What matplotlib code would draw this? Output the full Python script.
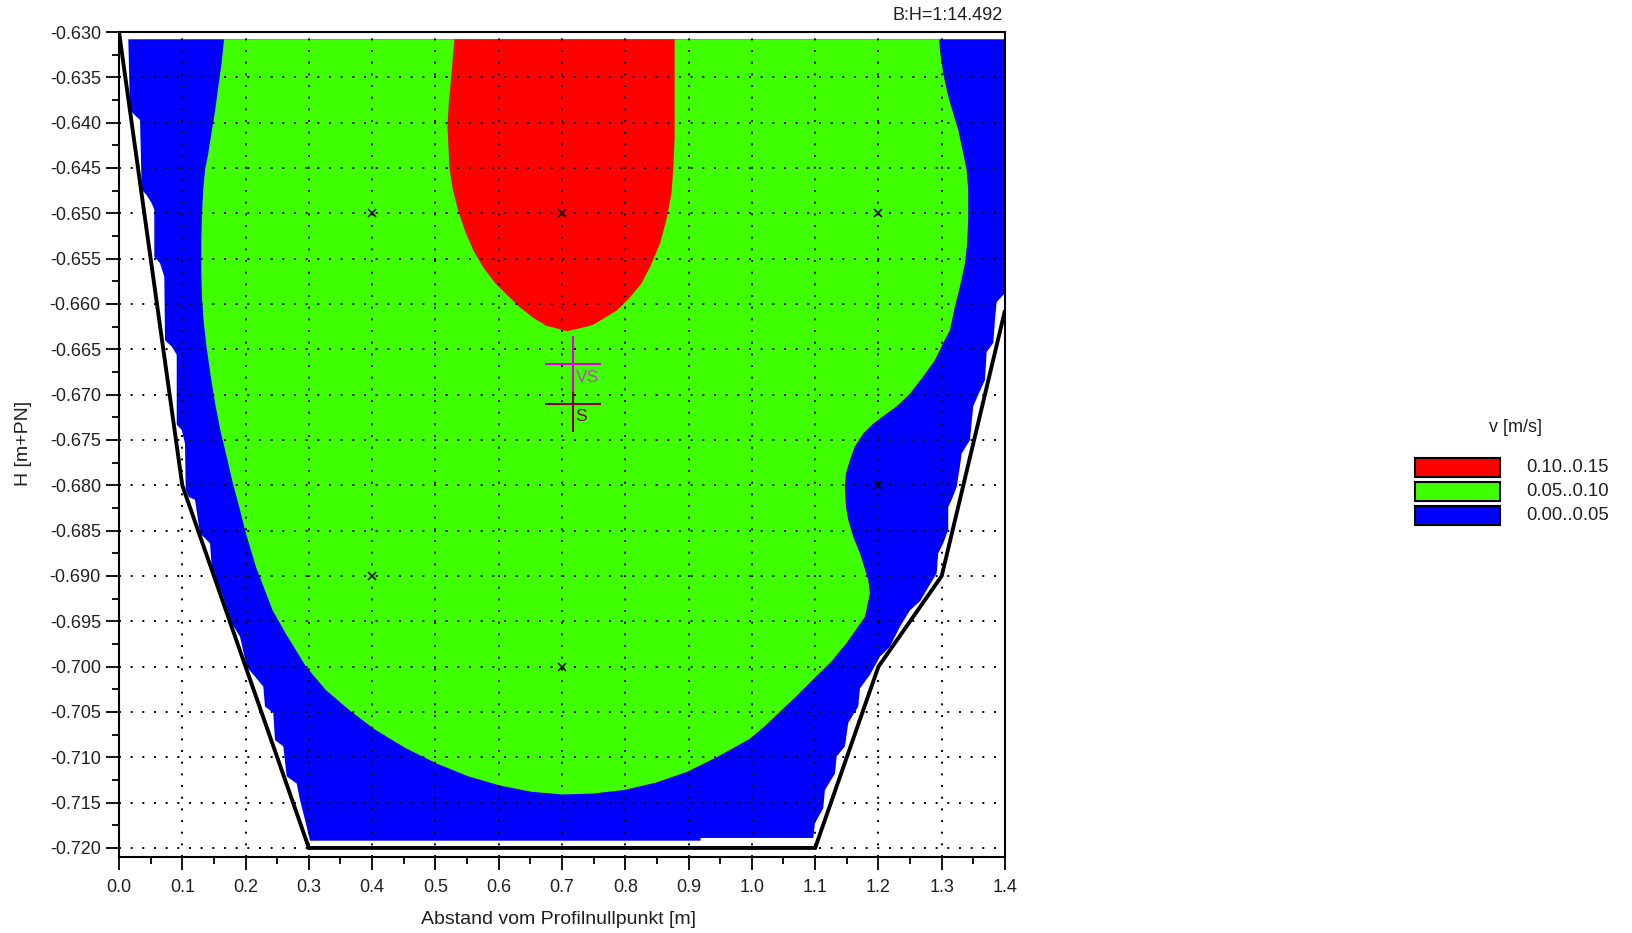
import matplotlib
matplotlib.use("Agg")
import matplotlib.pyplot as plt
from matplotlib.patches import Rectangle
from matplotlib.ticker import MultipleLocator, FormatStrFormatter

plt.rcParams['font.family'] = ['Liberation Sans', 'DejaVu Sans']
plt.rcParams['axes.unicode_minus'] = False

# ---- cross-section profile (bed line) ----
profile_x = [0.0, 0.1, 0.3, 1.1, 1.2, 1.3, 1.4]
profile_y = [-0.6300, -0.6800, -0.7200, -0.7200, -0.7000, -0.6900, -0.6607]
water_level = -0.6308

# ---- velocity classes ----
band_labels = ['0.10..0.15', '0.05..0.10', '0.00..0.05']
band_colors = ['#ff0000', '#40ff00', '#0000ff']

# 0.00..0.05 zone: left edge (top to bottom) and right edge (top to bottom)
blue_left_x = [0.0147, 0.0174, 0.0253, 0.0332, 0.0359, 0.0438, 0.0517, 0.0558,
               0.0558, 0.0648, 0.0716, 0.0727, 0.0833, 0.0912, 0.0912, 0.0991,
               0.1043, 0.1054, 0.1106, 0.1201, 0.1280, 0.1438, 0.1465, 0.1648,
               0.1781, 0.1912, 0.2018, 0.2280, 0.2307, 0.2438, 0.2465, 0.2596,
               0.2650, 0.2808, 0.2860, 0.2939, 0.3018]
blue_left_y = [-0.6308, -0.6386, -0.6392, -0.6397, -0.6474, -0.6480, -0.6489, -0.6496,
               -0.6548, -0.6555, -0.6570, -0.6640, -0.6647, -0.6656, -0.6733, -0.6739,
               -0.6754, -0.6805, -0.6813, -0.6816, -0.6853, -0.6864, -0.6890, -0.6923,
               -0.6952, -0.6967, -0.7000, -0.7022, -0.7044, -0.7051, -0.7081, -0.7088,
               -0.7121, -0.7129, -0.7147, -0.7169, -0.7192]
blue_right_x = [1.4000, 1.4000, 1.3972, 1.3868, 1.3841, 1.3814, 1.3710, 1.3683,
                1.3577, 1.3498, 1.3446, 1.3315, 1.3288, 1.3236, 1.3157, 1.3103,
                1.3103, 1.3024, 1.2945, 1.2920, 1.2656, 1.2498, 1.2340, 1.2182,
                1.2024, 1.1866, 1.1708, 1.1681, 1.1523, 1.1471, 1.1340, 1.1313,
                1.1155, 1.1128, 1.0996, 1.0970, 0.9190, 0.9190]
blue_right_y = [-0.6308, -0.6590, -0.6590, -0.6598, -0.6618, -0.6643, -0.6653, -0.6684,
                -0.6700, -0.6713, -0.6750, -0.6765, -0.6779, -0.6802, -0.6816, -0.6824,
                -0.6849, -0.6864, -0.6875, -0.6897, -0.6928, -0.6938, -0.6956, -0.6978,
                -0.6989, -0.7009, -0.7024, -0.7044, -0.7062, -0.7088, -0.7099, -0.7118,
                -0.7136, -0.7156, -0.7173, -0.7189, -0.7189, -0.7192]

# 0.05..0.10 zone outline (from the surface on the left, round the bottom, back up right)
green_x = [0.166, 0.162, 0.157, 0.152, 0.146, 0.141, 0.136, 0.133, 0.131, 0.130,
           0.130, 0.131, 0.134, 0.139, 0.145, 0.152, 0.160, 0.170, 0.180, 0.1874,
           0.2006, 0.2164, 0.2428, 0.2639, 0.2955, 0.3271, 0.364, 0.4036, 0.453,
           0.5024, 0.552, 0.601, 0.651, 0.700, 0.749, 0.799, 0.848, 0.898, 0.947,
           0.996, 1.020, 1.044, 1.070, 1.097, 1.125, 1.1498, 1.1787, 1.1866, 1.1839,
           1.1708, 1.1602, 1.1523, 1.1487, 1.1471, 1.1487, 1.1550, 1.1629, 1.1760,
           1.1918, 1.2130, 1.2288, 1.2498, 1.2708, 1.2893, 1.3024, 1.3130, 1.3209,
           1.3288, 1.3367, 1.3403, 1.3419, 1.3419, 1.3394, 1.3340, 1.3261, 1.3183,
           1.3103, 1.3024, 1.2972, 1.2961]
green_y = [-0.6308, -0.6335, -0.6360, -0.6386, -0.6412, -0.6434, -0.6452, -0.6474, -0.6504,
           -0.6533, -0.6563, -0.6592, -0.6621, -0.6651, -0.6680, -0.6710, -0.6739, -0.6768,
           -0.6798, -0.6817, -0.6853, -0.6890, -0.6938, -0.6964, -0.7000, -0.7026, -0.7048,
           -0.7069, -0.7090, -0.7107, -0.7121, -0.7131, -0.7138, -0.7141, -0.7140, -0.7136,
           -0.7128, -0.7116, -0.7099, -0.7080, -0.7066, -0.7050, -0.7033, -0.7014, -0.6995,
           -0.6974, -0.6945, -0.6919, -0.6904, -0.6875, -0.6857, -0.6838, -0.6824, -0.6802,
           -0.6787, -0.6772, -0.6757, -0.6743, -0.6732, -0.6721, -0.6713, -0.6699, -0.6680,
           -0.6662, -0.6643, -0.6629, -0.6603, -0.6581, -0.6555, -0.6533, -0.6504, -0.6474,
           -0.6452, -0.6434, -0.6408, -0.6390, -0.6371, -0.6346, -0.6320, -0.6308]

# 0.10..0.15 zone outline
red_x = [0.530, 0.524, 0.521, 0.519, 0.522, 0.527, 0.535, 0.547, 0.560, 0.575,
         0.593, 0.613, 0.634, 0.654, 0.675, 0.692, 0.708, 0.733, 0.749, 0.766,
         0.787, 0.807, 0.825, 0.840, 0.855, 0.865, 0.873, 0.876, 0.878, 0.878,
         0.878]
red_y = [-0.6308, -0.6357, -0.6380, -0.6403, -0.6449, -0.6472, -0.6495, -0.6520, -0.6541,
         -0.6559, -0.6576, -0.6590, -0.6604, -0.6615, -0.6624, -0.6627, -0.6630, -0.6626,
         -0.6623, -0.6616, -0.6607, -0.6593, -0.6578, -0.6558, -0.6533, -0.6507, -0.6478,
         -0.6449, -0.6415, -0.6380, -0.6308]

# ---- measuring points ----
meas_x = [0.4, 0.7, 1.2, 0.4, 0.7, 1.2]
meas_y = [-0.650, -0.650, -0.650, -0.690, -0.700, -0.680]

# centroid of flow (VS) and of area (S)
vs_x, vs_y = 0.718, -0.6666
s_x, s_y = 0.718, -0.6710

scale_text = 'B:H=1:14.492'
legend_title = 'v [m/s]'

# ---- figure ----
W, H = 1633, 933
fig = plt.figure(figsize=(W / 100, H / 100), dpi=100)
ax = fig.add_axes([119 / W, 1 - 857 / H, 886 / W, 825 / H])

zones = [
    (blue_left_x + blue_right_x[::-1], blue_left_y + blue_right_y[::-1], band_colors[2]),
    (green_x, green_y, band_colors[1]),
    (red_x, red_y, band_colors[0]),
]
for i, (zx, zy, col) in enumerate(zones):
    ax.fill(zx, zy, color=col, lw=0, zorder=1 + 0.1 * i)

ax.plot(profile_x, profile_y, color='black', lw=2.8, zorder=3,
        solid_joinstyle='miter', solid_capstyle='butt')

ax.plot(meas_x, meas_y, ls='none', marker='x', ms=6, mew=1.1, color='black', zorder=4)

ax.plot([s_x], [s_y], marker='+', ms=41, mew=1.5, color='#800030', ls='none', zorder=5)
ax.plot([vs_x], [vs_y], marker='+', ms=41, mew=1.5, color='#e000e0', ls='none', zorder=6)
ax.annotate('VS', (vs_x, vs_y), xytext=(1.5, -4.5), textcoords='offset points',
            ha='left', va='top', fontsize=12.5, color='#b050b0', zorder=7)
ax.annotate('S', (s_x, s_y), xytext=(1.5, -3.5), textcoords='offset points',
            ha='left', va='top', fontsize=12.5, color='#800030', zorder=7)

ax.set_xlim(0.0, 1.4)
ax.set_ylim(-0.721, -0.630)
ax.xaxis.set_major_locator(MultipleLocator(0.1))
ax.xaxis.set_minor_locator(MultipleLocator(0.05))
ax.yaxis.set_major_locator(MultipleLocator(0.005))
ax.yaxis.set_minor_locator(MultipleLocator(0.0025))
ax.xaxis.set_major_formatter(FormatStrFormatter('%.1f'))
ax.yaxis.set_major_formatter(FormatStrFormatter('%.3f'))

ax.grid(which='major', color='black', linestyle=(0, (1, 5)), linewidth=1.4)
ax.set_axisbelow(False)

txt_col = '#202020'
ax.tick_params(which='major', length=9.5, width=1.3, direction='out',
               labelsize=13, labelcolor=txt_col)
ax.tick_params(which='minor', length=5, width=1.3, direction='out')
ax.tick_params(axis='x', which='major', pad=6)
ax.tick_params(axis='y', which='major', pad=3.5)
for sp in ax.spines.values():
    sp.set_linewidth(1.5)
    sp.set_zorder(8)

ax.set_xlabel('Abstand vom Profilnullpunkt [m]', fontsize=14, color=txt_col)
ax.set_ylabel('H [m+PN]', fontsize=14, color=txt_col)
ax.xaxis.set_label_coords((559 - 119) / 886, (857 - 919) / 825)
ax.xaxis.label.set_verticalalignment('center')
ax.yaxis.set_label_coords((23 - 119) / 886, (857 - 443) / 825)
ax.yaxis.label.set_verticalalignment('center')

ax.text((1003 - 119) / 886, (857 - 15) / 825, scale_text, transform=ax.transAxes,
        ha='right', va='center', fontsize=13, color=txt_col)

# ---- legend ----
fig.text(1516 / W, 1 - 428 / H, legend_title, ha='center', va='center',
         fontsize=13, color=txt_col)
for i, (lab, col) in enumerate(zip(band_labels, band_colors)):
    top = 458 + 24 * i
    fig.add_artist(Rectangle((1415 / W, 1 - (top + 19) / H), 85 / W, 19 / H,
                             transform=fig.transFigure, facecolor=col,
                             edgecolor='black', lw=1.5))
    fig.text(1526 / W, 1 - (top + 9.5) / H, lab, ha='left', va='center',
             fontsize=13.3, color=txt_col)

fig.savefig('out.png', dpi=100)
